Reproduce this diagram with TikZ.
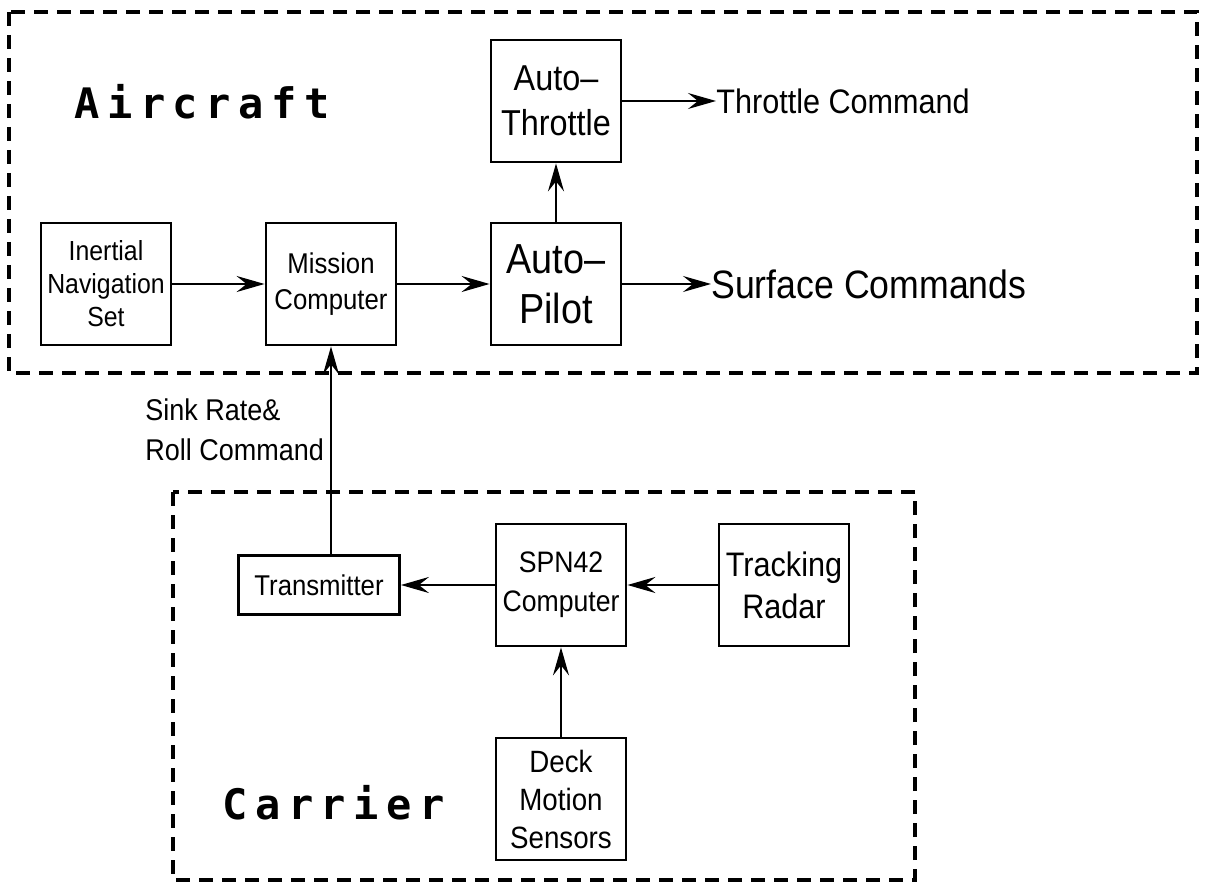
\documentclass[tikz,border=0pt]{standalone}
\usepackage{fontspec}
\setmainfont{Liberation Sans}[FakeStretch=0.9]
\newfontfamily\titulo[LetterSpace=18]{DejaVu Sans Mono}
\usetikzlibrary{arrows.meta,positioning}

\begin{document}
\begin{tikzpicture}[x=0.5pt,y=-0.5pt,
  bloque/.style={draw,line width=1.4pt,minimum width=65pt,minimum height=61pt,
    inner sep=1pt,align=center},
  flecha/.style={line width=1.1pt,-{Stealth[length=14pt,width=8pt,inset=5pt]}},
  grupo/.style={line width=1.7pt,dash pattern=on 7pt off 4.5pt},
  titulo/.style={anchor=base west,inner sep=0pt,
    font=\titulo\bfseries\fontsize{21}{25}\selectfont}]
  \useasboundingbox (0,0) rectangle (1205,893);
  % avion
  \draw[grupo] (9,12) rectangle (1197,373);
  \node[titulo] (avion) at (74,119) {Aircraft};
  \node[bloque,font=\fontsize{13.8}{16.5}\selectfont] (ins) at (106,284)
    {Inertial\\Navigation\\Set};
  \node[bloque,font=\fontsize{14.3}{18}\selectfont] (mision) at (331,284)
    {Mission\\Computer};
  \node[bloque,font=\fontsize{21}{25}\selectfont] (piloto) at (556,284)
    {Auto\textendash\\Pilot};
  \node[bloque,font=\fontsize{18}{22.5}\selectfont] (acelerador) at (556,101)
    {Auto\textendash\\Throttle};
  \node[anchor=west,inner sep=0pt,font=\fontsize{17}{20}\selectfont]
    (cmdacel) at (716,101) {Throttle Command};
  \node[anchor=west,inner sep=0pt,font=\fontsize{19.8}{24}\selectfont]
    (cmdsup) at (711,284) {Surface Commands};
  \draw[flecha] (ins) -- (mision);
  \draw[flecha] (mision) -- (piloto);
  \draw[flecha] (piloto) -- (acelerador);
  \draw[flecha] (acelerador) -- (cmdacel);
  \draw[flecha] (piloto) -- (cmdsup);
  % portaaviones
  \draw[grupo] (173,492) rectangle (915,880);
  \node[titulo] (portaaviones) at (222,819) {Carrier};
  \node[bloque,minimum width=80.5pt,minimum height=29.5pt,
    font=\fontsize{14.3}{16}\selectfont] (transmisor) at (319,585) {Transmitter};
  \node[bloque,font=\fontsize{14.8}{19.5}\selectfont] (spn) at (561,585)
    {SPN42\\Computer};
  \node[bloque,font=\fontsize{17}{21}\selectfont] (radar) at (784,585)
    {Tracking\\Radar};
  \node[bloque,font=\fontsize{15.4}{19}\selectfont] (cubierta) at (561,799)
    {Deck\\Motion\\Sensors};
  \node[anchor=north west,align=left,inner sep=0pt,
    font=\fontsize{15}{20}\selectfont] (enlace) at (145,398)
    {Sink Rate\&\\Roll Command};
  \draw[flecha] (radar) -- (spn);
  \draw[flecha] (spn) -- (transmisor);
  \draw[flecha] (cubierta) -- (spn);
  \draw[flecha] (transmisor.north -| mision.south) -- (mision.south);
\end{tikzpicture}
\end{document}
